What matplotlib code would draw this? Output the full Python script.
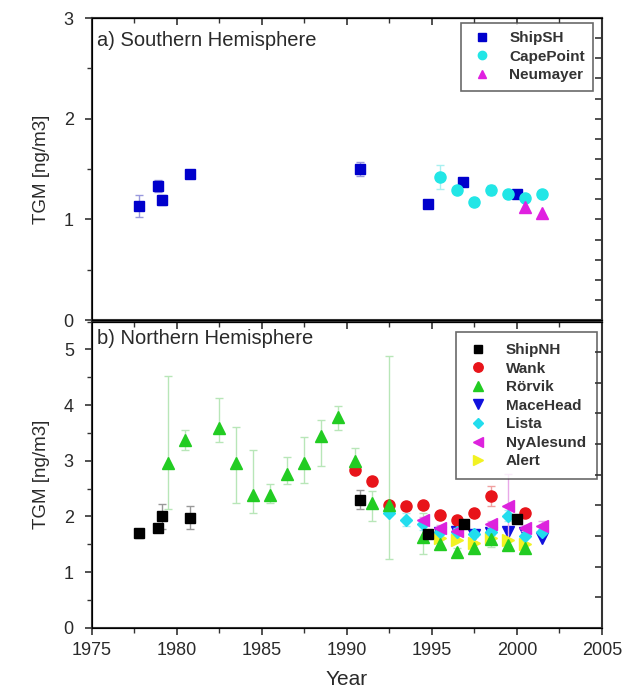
import numpy as np
import matplotlib
matplotlib.use("Agg")
import matplotlib.pyplot as plt
from matplotlib.ticker import MultipleLocator, FixedLocator
from matplotlib.container import ErrorbarContainer

plt.rcParams['font.family'] = ['Liberation Sans', 'DejaVu Sans']

# ---------------- Southern Hemisphere ----------------
shipsh_year = [1977.8, 1978.9, 1979.1, 1980.8, 1990.8, 1994.8, 1996.85, 2000.0]
shipsh_val = [1.13, 1.33, 1.19, 1.45, 1.50, 1.15, 1.37, 1.25]
shipsh_err = [0.11, 0.06, 0.05, 0.03, 0.07, 0.02, 0.02, 0.02]

cape_year = [1995.5, 1996.5, 1997.5, 1998.5, 1999.5, 2000.5, 2001.5]
cape_val = [1.42, 1.29, 1.17, 1.29, 1.25, 1.21, 1.25]
cape_err = [0.12, 0.03, 0.03, 0.05, 0.02, 0.02, 0.02]

neu_year = [2000.5, 2001.5]
neu_val = [1.12, 1.06]

# ---------------- Northern Hemisphere ----------------
shipnh_year = [1977.8, 1978.9, 1979.1, 1980.8, 1990.8, 1994.8, 1996.9, 2000.0]
shipnh_val = [1.70, 1.80, 2.00, 1.98, 2.30, 1.69, 1.87, 1.95]
shipnh_err = [0.08, 0.06, 0.22, 0.20, 0.17, 0.05, 0.05, 0.05]

wank_year = [1990.5, 1991.5, 1992.5, 1993.5, 1994.5, 1995.5, 1996.5, 1997.5, 1998.5, 2000.5]
wank_val = [2.83, 2.63, 2.20, 2.18, 2.21, 2.03, 1.94, 2.07, 2.37, 2.06]
wank_err = [0.05, 0.08, 0.05, 0.05, 0.05, 0.05, 0.05, 0.05, 0.18, 0.05]

rorvik_year = [1979.5, 1980.5, 1982.5, 1983.5, 1984.5, 1985.5, 1986.5, 1987.5, 1988.5,
               1989.5, 1990.5, 1991.5, 1992.5, 1994.5, 1995.5, 1996.5, 1997.5, 1998.5,
               1999.5, 2000.5]
rorvik_val = [2.96, 3.37, 3.59, 2.96, 2.39, 2.39, 2.76, 2.96, 3.44,
              3.79, 3.00, 2.25, 2.20, 1.63, 1.50, 1.37, 1.43, 1.60,
              1.48, 1.44]
rorvik_lo = [2.13, 3.19, 3.34, 2.24, 2.06, 2.25, 2.58, 2.60, 2.90,
             3.56, 2.76, 1.92, 1.23, 1.32, 1.42, 1.30, 1.36, 1.45,
             1.40, 1.36]
rorvik_hi = [4.52, 3.56, 4.13, 3.61, 3.20, 2.58, 3.06, 3.43, 3.73,
             3.98, 3.23, 2.46, 4.88, 2.06, 1.58, 1.44, 1.50, 1.75,
             1.56, 1.52]

mace_year = [1995.5, 1996.5, 1997.5, 1998.5, 1999.5, 2000.5, 2001.5]
mace_val = [1.70, 1.72, 1.67, 1.70, 1.72, 1.70, 1.61]

lista_year = [1992.5, 1993.5, 1994.5, 1995.5, 1996.5, 1997.5, 1998.5, 1999.5, 2000.5, 2001.5]
lista_val = [2.07, 1.94, 1.86, 1.72, 1.72, 1.68, 1.72, 2.01, 1.65, 1.73]
lista_err = [0.05, 0.12, 0.10, 0.05, 0.05, 0.05, 0.05, 0.10, 0.12, 0.05]

nya_year = [1994.5, 1995.5, 1996.5, 1998.5, 1999.5, 2000.5, 2001.5]
nya_val = [1.94, 1.80, 1.74, 1.86, 2.18, 1.79, 1.82]
nya_err = [0.05, 0.05, 0.05, 0.05, 0.59, 0.05, 0.10]

alert_year = [1995.5, 1996.5, 1997.5, 1998.5, 1999.5, 2000.5]
alert_val = [1.62, 1.58, 1.53, 1.62, 1.58, 1.51]

fig = plt.figure(figsize=(6.25, 6.93), dpi=100)
ax1 = fig.add_axes([0.147, 0.538, 0.816, 0.436])
ax2 = fig.add_axes([0.147, 0.094, 0.816, 0.442])

spine_c = '#333333'
text_c = '#2a2a2a'

def style(ax, ymax, rticks):
    ax.set_xlim(1975, 2005)
    ax.set_ylim(0, ymax)
    ax.xaxis.set_major_locator(MultipleLocator(5))
    ax.xaxis.set_minor_locator(MultipleLocator(2.5))
    ax.yaxis.set_major_locator(MultipleLocator(1))
    ax.yaxis.set_minor_locator(MultipleLocator(0.5))
    ax.tick_params(axis='both', which='major', direction='out', length=5, width=1.2,
                   labelsize=13, colors=spine_c, labelcolor=text_c)
    ax.tick_params(axis='both', which='minor', direction='out', length=3.5, width=1.0,
                   colors=spine_c)
    ax.tick_params(axis='y', which='both', pad=8)
    ax.tick_params(axis='x', which='both', pad=5)
    for s in ax.spines.values():
        s.set_color(spine_c)
        s.set_linewidth(1.5)
    ax.set_ylabel('TGM [ng/m3]', fontsize=13.5, color=text_c, labelpad=10)
    # inward ticks on top and right
    axt = ax.secondary_xaxis('top')
    axt.xaxis.set_major_locator(MultipleLocator(5))
    axt.xaxis.set_minor_locator(MultipleLocator(2.5))
    axt.tick_params(which='major', direction='in', length=5, width=1.2, labeltop=False, colors=spine_c)
    axt.tick_params(which='minor', direction='in', length=3.5, width=1.0, colors=spine_c)
    axr = ax.twinx()
    axr.set_ylim(0, ymax)
    axr.yaxis.set_major_locator(FixedLocator(rticks))
    axr.tick_params(axis='y', direction='in', length=5, width=1.2, labelright=False,
                    colors=spine_c)
    axr.spines['right'].set_visible(False)
    return axr

style(ax1, 3, np.linspace(0, 3, 16))
style(ax2, 5.5, np.linspace(0, 5.5, 11))
ax1.tick_params(axis='x', labelbottom=False)

ms = 7
# Southern panel
h_shipsh = ax1.errorbar(shipsh_year, shipsh_val, yerr=shipsh_err, fmt='s', color='#0000cc', ms=ms,
                        ecolor='#9999dd', elinewidth=1, capsize=3, label='ShipSH', zorder=3)
h_cape = ax1.errorbar(cape_year, cape_val, yerr=cape_err, fmt='o', color='#22e6e6', ms=ms + 1,
                      ecolor='#a8f0f0', elinewidth=1, capsize=3, label='CapePoint', zorder=3)
h_neu, = ax1.plot(neu_year, neu_val, '^', color='#e020e0', ms=ms + 1, ls='none', label='Neumayer', zorder=4)
ax1.text(1975.3, 2.72, 'a) Southern Hemisphere', fontsize=14.5, color=text_c)

def handles_of(hs):
    return [h[0] if isinstance(h, ErrorbarContainer) else h for h in hs]

leg1 = ax1.legend(handles_of([h_shipsh, h_cape, h_neu]), ['ShipSH', 'CapePoint', 'Neumayer'],
                  loc='upper right', bbox_to_anchor=(0.983, 0.985), borderaxespad=0,
                  prop={'size': 11, 'weight': 'bold'}, markerscale=0.75, frameon=True,
                  fancybox=False, borderpad=0.55, handletextpad=1.0, handlelength=1.6,
                  labelspacing=0.3)
leg1.get_frame().set_edgecolor('#444444')
leg1.get_frame().set_linewidth(1.2)
for t in leg1.get_texts():
    t.set_color('#333333')

# Northern panel
ax2.errorbar(rorvik_year, rorvik_val,
             yerr=[np.array(rorvik_val) - np.array(rorvik_lo), np.array(rorvik_hi) - np.array(rorvik_val)],
             fmt='none', ecolor='#b8e6b8', elinewidth=1, capsize=3, zorder=2)
h1 = ax2.errorbar(shipnh_year, shipnh_val, yerr=shipnh_err, fmt='s', color='black', ms=ms,
                  ecolor='#999999', elinewidth=1, capsize=3, zorder=5)
h2 = ax2.errorbar(wank_year, wank_val, yerr=wank_err, fmt='o', color='#e8141a', ms=ms + 1,
                  ecolor='#f0a0a0', elinewidth=1, capsize=3, zorder=3)
h3, = ax2.plot(rorvik_year, rorvik_val, '^', color='#22cc22', ms=ms + 1, ls='none', zorder=4)
h4, = ax2.plot(mace_year, mace_val, 'v', color='#1010dd', ms=ms + 1, ls='none', zorder=3)
h5 = ax2.errorbar(lista_year, lista_val, yerr=lista_err, fmt='D', color='#22ddee', ms=ms - 1,
                  ecolor='#a8eef4', elinewidth=1, capsize=3, zorder=3)
h6 = ax2.errorbar(nya_year, nya_val, yerr=nya_err, fmt='<', color='#dd22dd', ms=ms + 1,
                  ecolor='#e8a8e8', elinewidth=1, capsize=3, zorder=3)
h7, = ax2.plot(alert_year, alert_val, '>', color='#f2f222', ms=ms + 1, ls='none', zorder=3)
ax2.text(1975.3, 5.1, 'b) Northern Hemisphere', fontsize=14.5, color=text_c)
leg2 = ax2.legend(handles_of([h1, h2, h3, h4, h5, h6, h7]),
                  ['ShipNH', 'Wank', 'Rörvik', 'MaceHead', 'Lista', 'NyAlesund', 'Alert'],
                  loc='upper right', bbox_to_anchor=(0.99, 0.965), borderaxespad=0,
                  prop={'size': 11, 'weight': 'bold'}, markerscale=0.85, frameon=True,
                  fancybox=False, borderpad=0.7, handletextpad=1.0, handlelength=1.6,
                  labelspacing=0.3)
leg2.get_frame().set_edgecolor('#444444')
leg2.get_frame().set_linewidth(1.2)
for t in leg2.get_texts():
    t.set_color('#333333')
ax2.set_xlabel('Year', fontsize=15, color=text_c, labelpad=8)

fig.savefig('out.png', dpi=100)
